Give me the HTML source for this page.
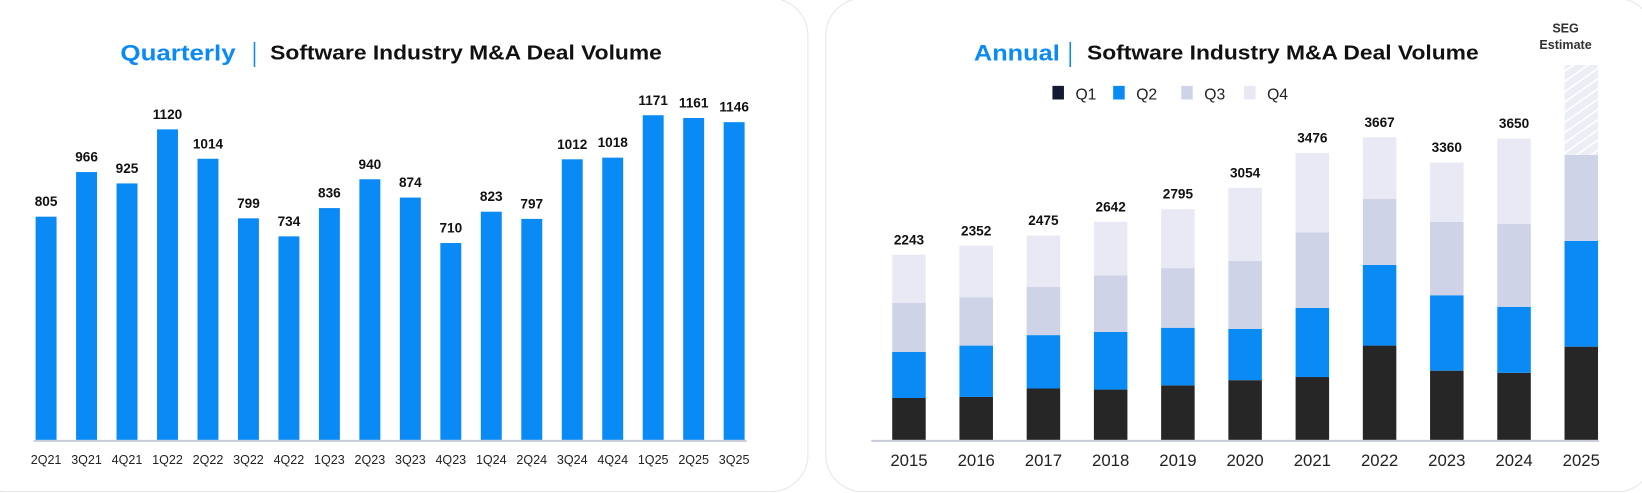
<!DOCTYPE html>
<html><head><meta charset="utf-8"><style>
body{margin:0;background:#fff;width:1642px;height:493px;overflow:hidden;font-family:"Liberation Sans",sans-serif}
#wrap{position:absolute;left:0;top:0;width:1568px;height:471px;transform:scale(1.0472);transform-origin:0 0}
.card{position:absolute;border:1px solid #e6e6ea;border-radius:36px;background:#fff}
</style></head><body>
<div id="wrap">
<div class="card" style="left:-30px;top:-2px;width:800px;height:470px"></div>
<div class="card" style="left:788px;top:-2px;width:790px;height:470px"></div>
<svg id="svg" width="1568" height="471" style="position:absolute;left:0;top:0" font-family="Liberation Sans, sans-serif">
<g>
<text x="115" y="58" font-size="21" font-weight="bold" fill="#0a8af5" textLength="110" lengthAdjust="spacingAndGlyphs">Quarterly</text>
<line x1="243" y1="40" x2="243" y2="64" stroke="#0a8af5" stroke-width="1.5"/>
<text x="258" y="57" font-size="19" font-weight="bold" fill="#111" textLength="374" lengthAdjust="spacingAndGlyphs">Software Industry M&amp;A Deal Volume</text>
</g>
<g>
<text x="930" y="58" font-size="21" font-weight="bold" fill="#0a8af5" textLength="82" lengthAdjust="spacingAndGlyphs">Annual</text>
<line x1="1022" y1="40" x2="1022" y2="64" stroke="#0a8af5" stroke-width="1.5"/>
<text x="1038" y="57" font-size="19" font-weight="bold" fill="#111" textLength="374" lengthAdjust="spacingAndGlyphs">Software Industry M&amp;A Deal Volume</text>
</g>
<text x="1495" y="31" font-size="12" font-weight="bold" fill="#333" text-anchor="middle">SEG</text>
<text x="1495" y="47" font-size="12" font-weight="bold" fill="#333" text-anchor="middle">Estimate</text>
<defs><pattern id="hatch" width="8" height="8" patternUnits="userSpaceOnUse" patternTransform="rotate(-35)"><rect width="8" height="8" fill="#eceef5"/><line x1="0" y1="0" x2="8" y2="0" stroke="#fff" stroke-width="3"/></pattern></defs>
<g id="q"></g><g id="a"></g>
</svg>
</div>
<script>
const qCats=["2Q21","3Q21","4Q21","1Q22","2Q22","3Q22","4Q22","1Q23","2Q23","3Q23","4Q23","1Q24","2Q24","3Q24","4Q24","1Q25","2Q25","3Q25"];
const qVals=[805,966,925,1120,1014,799,734,836,940,874,710,823,797,1012,1018,1171,1161,1146];
const years=["2015","2016","2017","2018","2019","2020","2021","2022","2023","2024","2025"];
const q1=[507,520,622,609,660,723,761,1142,838,812,1129];
const q2=[558,622,647,698,698,622,838,977,914,800,1282];
const q3=[596,584,584,685,723,825,914,800,888,1003,1041];
const q4=[582,626,622,650,714,884,963,748,720,1035,1091];
const totals=["2243","2352","2475","2642","2795","3054","3476","3667","3360","3650",""];
const seriesNames=["Q1","Q2","Q3","Q4"];
const NS="http://www.w3.org/2000/svg";
function mk(p,t,a,txt){const e=document.createElementNS(NS,t);for(const k in a)e.setAttribute(k,a[k]);if(txt!==undefined)e.textContent=txt;p.appendChild(e);return e;}
const base=420;
const qx=i=>44+i*38.65, qy=v=>base-v*0.2647;
const qg=document.getElementById('q');
let ax=mk(qg,'line',{x1:32,x2:713,y1:base+1,y2:base+1,stroke:'#c8cbd8','stroke-width':2});


qVals.forEach((v,i)=>{
 const r=mk(qg,'rect',{x:qx(i)-10,y:qy(v),width:20,height:base-qy(v),fill:'#0a8af5'});
 
 
 const t=mk(qg,'text',{x:qx(i),y:qy(v)-10,'font-size':13,'font-weight':'bold','text-anchor':'middle',fill:'#111'},String(v));
 
 
 const c=mk(qg,'text',{x:qx(i),y:443,'font-size':12,'text-anchor':'middle',fill:'#222'},qCats[i]);
 
 
});
const ag=document.getElementById('a');
const axx=i=>868+i*64.2, ay=v=>v*0.0788;
const cols=['#262626','#0a8af5','#cfd3e8','#e8e9f4'];
let ax2=mk(ag,'line',{x1:832,x2:1527,y1:base+1,y2:base+1,stroke:'#c8cbd8','stroke-width':2});


const lx=[1005,1063,1128,1188];
seriesNames.forEach((n,k)=>{
 const s=mk(ag,'rect',{x:lx[k],y:82,width:11,height:13,fill:k==0?'#141a33':cols[k]});
 
 
 const t=mk(ag,'text',{x:lx[k]+22,y:95,'font-size':15,fill:'#222'},n);
 
 
});
years.forEach((y,i)=>{
 let top=base;
 [q1,q2,q3,q4].forEach((s,k)=>{
  const h=ay(s[i]);top-=h;
  const fill=(k==3&&y=="2025")?'url(#hatch)':cols[k];
  const r=mk(ag,'rect',{x:axx(i)-16,y:top,width:32,height:h,fill:fill});
  
  
 });
 if(totals[i]){
  const t=mk(ag,'text',{x:axx(i),y:top-10,'font-size':13,'font-weight':'bold','text-anchor':'middle',fill:'#111'},totals[i]);
  
  
 }
 const c=mk(ag,'text',{x:axx(i),y:445,'font-size':16,'text-anchor':'middle',fill:'#222'},y);
 
 
});
</script>
</body></html>
